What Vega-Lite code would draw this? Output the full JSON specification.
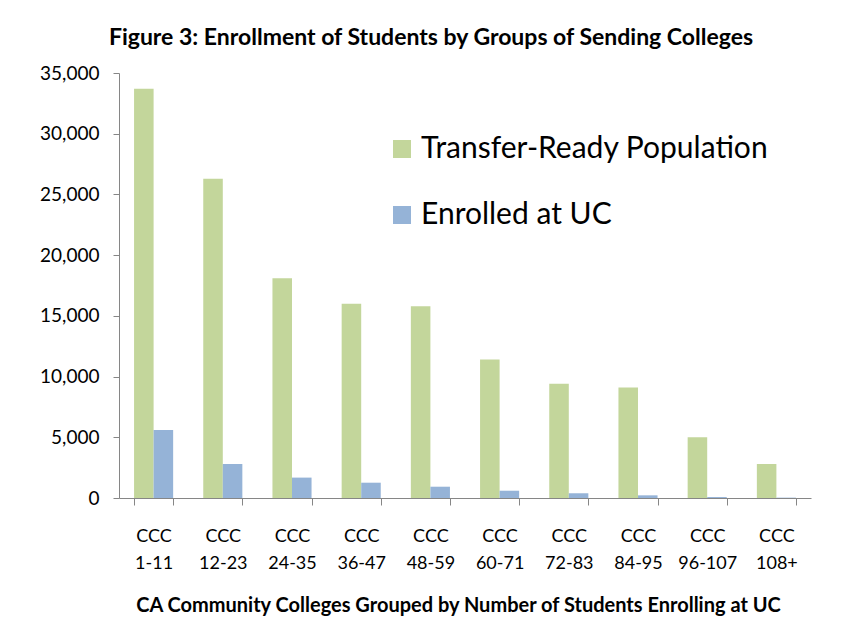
{
  "$schema": "https://vega.github.io/schema/vega-lite/v6.json",
  "autosize": {"type": "none"},
  "width": 692,
  "height": 425,
  "padding": {"left": 119, "top": 73, "right": 33, "bottom": 123},
  "background": "white",
  "config": {
    "font": "Lato",
    "view": {"stroke": null}
  },
  "title": {
    "text": "Figure 3: Enrollment of Students by Groups of Sending Colleges",
    "font": "Lato",
    "fontSize": 23,
    "fontWeight": "bold",
    "color": "#000000",
    "anchor": "middle",
    "frame": "group",
    "dx": -34,
    "offset": 14
  },
  "data": {
    "values": [
      {"group": "CCC 1-11", "series": "Transfer-Ready Population", "value": 33700},
      {"group": "CCC 1-11", "series": "Enrolled at UC", "value": 5600},
      {"group": "CCC 12-23", "series": "Transfer-Ready Population", "value": 26300},
      {"group": "CCC 12-23", "series": "Enrolled at UC", "value": 2800},
      {"group": "CCC 24-35", "series": "Transfer-Ready Population", "value": 18100},
      {"group": "CCC 24-35", "series": "Enrolled at UC", "value": 1680},
      {"group": "CCC 36-47", "series": "Transfer-Ready Population", "value": 16000},
      {"group": "CCC 36-47", "series": "Enrolled at UC", "value": 1260},
      {"group": "CCC 48-59", "series": "Transfer-Ready Population", "value": 15800},
      {"group": "CCC 48-59", "series": "Enrolled at UC", "value": 930},
      {"group": "CCC 60-71", "series": "Transfer-Ready Population", "value": 11400},
      {"group": "CCC 60-71", "series": "Enrolled at UC", "value": 600},
      {"group": "CCC 72-83", "series": "Transfer-Ready Population", "value": 9400},
      {"group": "CCC 72-83", "series": "Enrolled at UC", "value": 390},
      {"group": "CCC 84-95", "series": "Transfer-Ready Population", "value": 9100},
      {"group": "CCC 84-95", "series": "Enrolled at UC", "value": 220},
      {"group": "CCC 96-107", "series": "Transfer-Ready Population", "value": 5000},
      {"group": "CCC 96-107", "series": "Enrolled at UC", "value": 80},
      {"group": "CCC 108+", "series": "Transfer-Ready Population", "value": 2800},
      {"group": "CCC 108+", "series": "Enrolled at UC", "value": 30}
    ]
  },
  "mark": {"type": "bar"},
  "encoding": {
    "x": {
      "field": "group",
      "type": "nominal",
      "sort": null,
      "scale": {"paddingInner": 0.435, "paddingOuter": 0.2175},
      "axis": {
        "title": "CA Community Colleges Grouped by Number of Students Enrolling at UC",
        "titleFont": "Lato",
        "titleFontSize": 20,
        "titleFontWeight": "bold",
        "titleColor": "#000000",
        "titlePadding": 23,
        "titleX": 339,
        "titleAlign": "center",
        "labelExpr": "datum.value ? split(datum.value, ' ') : ''",
        "labelFont": "Lato",
        "labelFontSize": 18,
        "labelColor": "#000000",
        "labelLineHeight": 27,
        "labelPadding": 22,
        "labelAngle": 0,
        "tickBand": "extent",
        "tickSize": 7,
        "tickColor": "#868686",
        "domainColor": "#868686",
        "grid": false
      }
    },
    "xOffset": {
      "field": "series",
      "type": "nominal",
      "sort": ["Transfer-Ready Population", "Enrolled at UC"]
    },
    "y": {
      "field": "value",
      "type": "quantitative",
      "scale": {"domain": [0, 35000], "nice": false},
      "axis": {
        "title": null,
        "values": [0, 5000, 10000, 15000, 20000, 25000, 30000, 35000],
        "format": ",.0f",
        "labelFont": "Lato",
        "labelFontSize": 19,
        "labelColor": "#000000",
        "labelPadding": 14,
        "tickSize": 6,
        "tickColor": "#868686",
        "domainColor": "#868686",
        "grid": false
      }
    },
    "color": {
      "field": "series",
      "type": "nominal",
      "sort": ["Transfer-Ready Population", "Enrolled at UC"],
      "scale": {
        "domain": ["Transfer-Ready Population", "Enrolled at UC"],
        "range": ["#C3D69B", "#95B3D7"]
      },
      "legend": {
        "title": null,
        "orient": "none",
        "legendX": 268,
        "legendY": 61,
        "symbolType": "square",
        "symbolSize": 324,
        "symbolStrokeWidth": 0,
        "labelFont": "Lato",
        "labelFontSize": 30,
        "labelColor": "#000000",
        "labelOffset": 4,
        "rowPadding": 36,
        "labelLimit": 500
      }
    }
  }
}
